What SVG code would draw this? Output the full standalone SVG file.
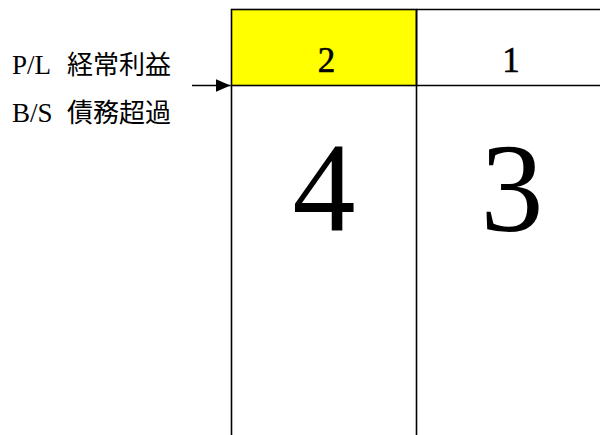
<svg xmlns="http://www.w3.org/2000/svg" width="600" height="435" viewBox="0 0 600 435">
  <style>
    .cell { stroke: #000; stroke-width: 1.6; }
    .line { stroke: #000; stroke-width: 1.6; fill: none; }
    .num { font-family: "Liberation Serif", "DejaVu Serif", serif; fill: #000; text-anchor: middle; }
    .small { font-size: 35px; stroke: #000; stroke-width: 0.6; }
    .big { font-size: 126px; }
    .lbl { font-family: "Liberation Serif", "Noto Sans CJK JP", serif; font-size: 26px; fill: #000; }
    .lat { font-size: 27px; }
  </style>
  <defs>
    <marker id="arrow" markerWidth="15" markerHeight="13" refX="15" refY="6.5" orient="auto" markerUnits="userSpaceOnUse">
      <path d="M0,0 L15,6.5 L0,13 Z" fill="#000"/>
    </marker>
  </defs>
  <rect width="600" height="435" fill="#fff"/>
  <g id="cell-2">
    <rect class="cell" x="231.5" y="9.5" width="185" height="76" fill="#ffff00"/>
    <text class="num small" x="326.5" y="72">2</text>
  </g>
  <g id="cell-1">
    <path class="line" d="M416.5,9.5 H601 M416.5,85.5 H601"/>
    <text class="num small" x="511" y="72">1</text>
  </g>
  <g id="col-4">
    <path class="line" d="M231.5,85.5 V436 M416.5,9.5 V436"/>
    <text class="num big" x="324" y="230">4</text>
  </g>
  <g id="col-3">
    <text class="num big" x="512" y="231">3</text>
  </g>
  <g id="labels">
    <text class="lbl" y="74"><tspan class="lat" x="12">P/L</tspan><tspan x="67">経常利益</tspan></text>
    <text class="lbl" y="122"><tspan class="lat" x="12">B/S</tspan><tspan x="67">債務超過</tspan></text>
  </g>
  <g id="connectors">
    <line class="line" x1="192" y1="85.5" x2="230.5" y2="85.5" stroke-width="2.4" marker-end="url(#arrow)"/>
  </g>
</svg>
